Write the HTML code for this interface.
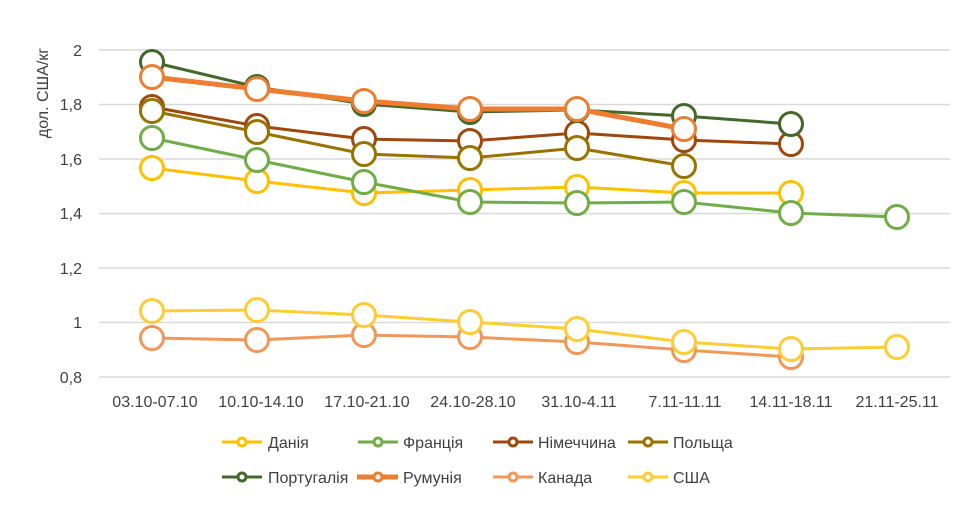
<!DOCTYPE html>
<html><head><meta charset="utf-8"><style>
html,body{margin:0;padding:0;background:#fff;}
svg text{font-family:"Liberation Sans","DejaVu Sans",sans-serif;fill:#404040;}
</style></head><body>
<svg width="975" height="505" viewBox="0 0 975 505" xmlns="http://www.w3.org/2000/svg">
<g stroke="#d9d9d9" stroke-width="1.5">
<line x1="99" x2="950" y1="50" y2="50"/><line x1="99" x2="950" y1="104.5" y2="104.5"/>
<line x1="99" x2="950" y1="159" y2="159"/><line x1="99" x2="950" y1="213.5" y2="213.5"/>
<line x1="99" x2="950" y1="268" y2="268"/><line x1="99" x2="950" y1="322.5" y2="322.5"/>
<line x1="99" x2="950" y1="377" y2="377"/>
</g>
<g font-size="16" text-anchor="end">
<text x="82" y="56">2</text><text x="82" y="110">1,8</text><text x="82" y="165">1,6</text>
<text x="82" y="219">1,4</text><text x="82" y="274">1,2</text><text x="82" y="328">1</text><text x="82" y="383">0,8</text>
</g>
<text transform="translate(48,93) rotate(-90)" font-size="16" text-anchor="middle">дол. США/кг</text>
<g font-size="16" text-anchor="middle">
<text x="155" y="407">03.10-07.10</text><text x="261" y="407">10.10-14.10</text><text x="367" y="407">17.10-21.10</text>
<text x="473" y="407">24.10-28.10</text><text x="579" y="407">31.10-4.11</text><text x="685" y="407">7.11-11.11</text>
<text x="791" y="407">14.11-18.11</text><text x="897" y="407">21.11-25.11</text>
</g>
<g fill="#fff" stroke-width="3">
<polyline fill="none" stroke="#F1975A" points="152,338 257,340 364,335 470,337 577,342 684,350 791,357"/>
<g stroke="#F1975A"><circle cx="152" cy="338" r="11.5"/><circle cx="257" cy="340" r="11.5"/><circle cx="364" cy="335" r="11.5"/><circle cx="470" cy="337" r="11.5"/><circle cx="577" cy="342" r="11.5"/><circle cx="684" cy="350" r="11.5"/><circle cx="791" cy="357" r="11.5"/></g>
<polyline fill="none" stroke="#FFCD33" points="152,311 257,310 364,315 470,322 577,329 684,342 791,349 897,347"/>
<g stroke="#FFCD33"><circle cx="152" cy="311" r="11.5"/><circle cx="257" cy="310" r="11.5"/><circle cx="364" cy="315" r="11.5"/><circle cx="470" cy="322" r="11.5"/><circle cx="577" cy="329" r="11.5"/><circle cx="684" cy="342" r="11.5"/><circle cx="791" cy="349" r="11.5"/><circle cx="897" cy="347" r="11.5"/></g>
<polyline fill="none" stroke="#FFC000" points="152,168 257,181 364,193 470,190 577,187 684,193 791,193"/>
<g stroke="#FFC000"><circle cx="152" cy="168" r="11.5"/><circle cx="257" cy="181" r="11.5"/><circle cx="364" cy="193" r="11.5"/><circle cx="470" cy="190" r="11.5"/><circle cx="577" cy="187" r="11.5"/><circle cx="684" cy="193" r="11.5"/><circle cx="791" cy="193" r="11.5"/></g>
<polyline fill="none" stroke="#70AD47" points="152,138 257,160 364,182 470,202 577,203 684,202 791,213 897,217"/>
<g stroke="#70AD47"><circle cx="152" cy="138" r="11.5"/><circle cx="257" cy="160" r="11.5"/><circle cx="364" cy="182" r="11.5"/><circle cx="470" cy="202" r="11.5"/><circle cx="577" cy="203" r="11.5"/><circle cx="684" cy="202" r="11.5"/><circle cx="791" cy="213" r="11.5"/><circle cx="897" cy="217" r="11.5"/></g>
<polyline fill="none" stroke="#9E480E" points="152,107 257,126 364,139 470,141 577,133 684,140 791,144"/>
<g stroke="#9E480E"><circle cx="152" cy="107" r="11.5"/><circle cx="257" cy="126" r="11.5"/><circle cx="364" cy="139" r="11.5"/><circle cx="470" cy="141" r="11.5"/><circle cx="577" cy="133" r="11.5"/><circle cx="684" cy="140" r="11.5"/><circle cx="791" cy="144" r="11.5"/></g>
<polyline fill="none" stroke="#997300" points="152,111 257,132 364,154 470,158 577,148 684,166"/>
<g stroke="#997300"><circle cx="152" cy="111" r="11.5"/><circle cx="257" cy="132" r="11.5"/><circle cx="364" cy="154" r="11.5"/><circle cx="470" cy="158" r="11.5"/><circle cx="577" cy="148" r="11.5"/><circle cx="684" cy="166" r="11.5"/></g>
<polyline fill="none" stroke="#43682B" points="152,62 257,87 364,104 470,112 577,110 684,116 791,124"/>
<g stroke="#43682B"><circle cx="152" cy="62" r="11.5"/><circle cx="257" cy="87" r="11.5"/><circle cx="364" cy="104" r="11.5"/><circle cx="470" cy="112" r="11.5"/><circle cx="577" cy="110" r="11.5"/><circle cx="684" cy="116" r="11.5"/><circle cx="791" cy="124" r="11.5"/></g>
<polyline fill="none" stroke="#ED7D31" stroke-width="5" points="152,77 257,89 364,101 470,109 577,109 684,129"/>
<g stroke="#ED7D31"><circle cx="152" cy="77" r="11.5"/><circle cx="257" cy="89" r="11.5"/><circle cx="364" cy="101" r="11.5"/><circle cx="470" cy="109" r="11.5"/><circle cx="577" cy="109" r="11.5"/><circle cx="684" cy="129" r="11.5"/></g>
</g>
<g stroke-width="3" fill="#fff">
<line x1="222" x2="262" y1="442" y2="442" stroke="#FFC000"/><circle cx="242" cy="442" r="4" stroke="#FFC000"/>
<line x1="358" x2="398" y1="442" y2="442" stroke="#70AD47"/><circle cx="378" cy="442" r="4" stroke="#70AD47"/>
<line x1="493" x2="533" y1="442" y2="442" stroke="#9E480E"/><circle cx="513" cy="442" r="4" stroke="#9E480E"/>
<line x1="628" x2="668" y1="442" y2="442" stroke="#997300"/><circle cx="648" cy="442" r="4" stroke="#997300"/>
<line x1="222" x2="262" y1="477" y2="477" stroke="#43682B"/><circle cx="242" cy="477" r="4" stroke="#43682B"/>
<line x1="357" x2="398" y1="477" y2="477" stroke="#ED7D31" stroke-width="5"/><circle cx="378" cy="477" r="4" stroke="#ED7D31"/>
<line x1="493" x2="533" y1="477" y2="477" stroke="#F1975A"/><circle cx="513" cy="477" r="4" stroke="#F1975A"/>
<line x1="628" x2="668" y1="477" y2="477" stroke="#FFCD33"/><circle cx="648" cy="477" r="4" stroke="#FFCD33"/>
</g>
<g font-size="16">
<text x="268" y="448">Данія</text><text x="403" y="448">Франція</text><text x="538" y="448">Німеччина</text><text x="673" y="448">Польща</text>
<text x="268" y="483">Португалія</text><text x="403" y="483">Румунія</text><text x="538" y="483">Канада</text><text x="673" y="483">США</text>
</g>
</svg>
</body></html>
